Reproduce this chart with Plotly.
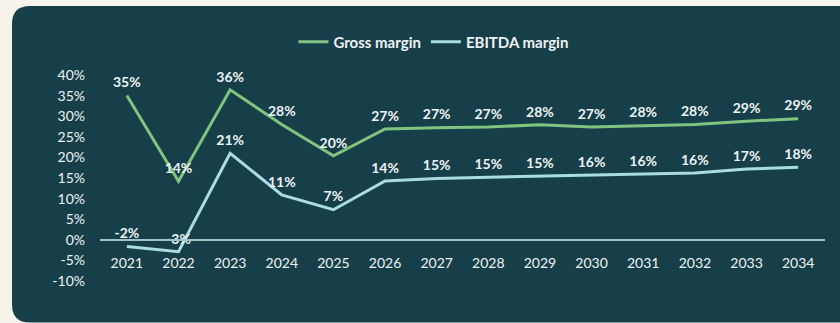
import plotly.graph_objects as go

years = [2021, 2022, 2023, 2024, 2025, 2026, 2027, 2028, 2029, 2030, 2031, 2032, 2033, 2034]
gross_margin = [35.0, 14.2, 36.4, 28.0, 20.4, 26.9, 27.2, 27.4, 27.9, 27.4, 27.7, 28.0, 28.8, 29.4]
ebitda_margin = [-1.6, -2.9, 21.0, 10.9, 7.3, 14.3, 14.9, 15.2, 15.4, 15.7, 16.0, 16.2, 17.2, 17.6]
y_ticks = [-10, -5, 0, 5, 10, 15, 20, 25, 30, 35, 40]

W, H = 840, 323
BG = "#f5f3ea"
PANEL = "#173f4a"
GREEN = "#7fc47f"
CYAN = "#a9dde2"
TXT = "#eef3f3"
FONT = "Lato"


def px(x):
    return x / W


def py(y):
    return 1 - y / H


fig = go.Figure()

for name, vals, col in [("Gross margin", gross_margin, GREEN),
                        ("EBITDA margin", ebitda_margin, CYAN)]:
    fig.add_trace(go.Scatter(
        x=years, y=vals, name=name, mode="lines+markers+text",
        line=dict(color=col, width=3),
        marker=dict(size=6, color="rgba(0,0,0,0)"),
        text=[f"{round(v):.0f}%" for v in vals],
        textposition="top center",
        textfont=dict(family=FONT, size=14, color=TXT, weight="bold"),
        cliponaxis=False,
        hoverinfo="skip",
    ))

# dark rounded panel behind the chart
r = 18
x0, y0, x1, y1 = 12, 6, 860, 322.5
path = (f"M {px(x0)},{py(y0 + r)} Q {px(x0)},{py(y0)} {px(x0 + r)},{py(y0)} "
        f"L {px(x1)},{py(y0)} L {px(x1)},{py(y1)} L {px(x0 + r)},{py(y1)} "
        f"Q {px(x0)},{py(y1)} {px(x0)},{py(y1 - r)} Z")
fig.add_shape(type="path", path=path, xref="paper", yref="paper",
              fillcolor=PANEL, line=dict(width=0), layer="below")

fig.update_layout(
    width=W, height=H,
    margin=dict(l=0, r=0, t=0, b=0, autoexpand=False),
    paper_bgcolor=BG, plot_bgcolor="rgba(0,0,0,0)",
    font=dict(family=FONT, color=TXT, size=14),
    showlegend=True,
    legend=dict(orientation="h", x=0.516, xanchor="center", y=py(42), yanchor="middle",
                font=dict(family=FONT, size=15, color=TXT, weight="bold"),
                itemwidth=30, bgcolor="rgba(0,0,0,0)"),
    xaxis=dict(domain=[px(100), px(825)], range=[2020.48, 2034.52],
               tickmode="array", tickvals=years, ticktext=[str(y) for y in years],
               anchor="free", position=py(240), automargin=False,
               showline=True, linecolor="#9fc3c8", linewidth=2,
               showgrid=False, zeroline=False, ticks="",
               ticklabelstandoff=10,
               tickfont=dict(family=FONT, size=14, color=TXT)),
    yaxis=dict(domain=[py(281), py(75)], range=[-10, 40], automargin=False,
               tickmode="array", tickvals=y_ticks, ticktext=[f"{t}%" for t in y_ticks],
               showgrid=False, zeroline=False, showline=False, ticks="",
               ticklabelstandoff=14,
               tickfont=dict(family=FONT, size=14, color=TXT)),
)

fig.write_html("out.html")
